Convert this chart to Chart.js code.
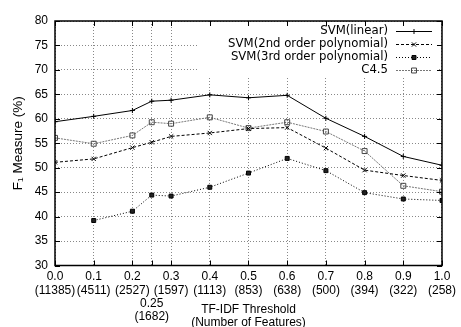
<!DOCTYPE html>
<html><head><meta charset="utf-8">
<script src="https://cdn.jsdelivr.net/npm/chart.js@4/dist/chart.umd.min.js"></script>
<style>html,body{margin:0;padding:0;background:#fff}#wrap{width:461px;height:327px}</style>
</head><body><div id="wrap"><canvas id="c" width="461" height="327"></canvas></div>
<script>
const thresholds = [0.0, 0.1, 0.2, 0.25, 0.3, 0.4, 0.5, 0.6, 0.7, 0.8, 0.9, 1.0];
const thresholdLabels = ['0.0','0.1','0.2','0.25','0.3','0.4','0.5','0.6','0.7','0.8','0.9','1.0'];
const featureCounts = ['(11385)','(4511)','(2527)','(1682)','(1597)','(1113)','(853)','(638)','(500)','(394)','(322)','(258)'];
const svmLinear = [59.4, 60.5, 61.7, 63.6, 63.8, 64.9, 64.3, 64.8, 60.1, 56.4, 52.3, 50.5];
const svmPoly2  = [51.1, 51.8, 54.1, 55.2, 56.4, 57.1, 58.0, 58.2, 54.0, 49.5, 48.4, 47.4];
const svmPoly3  = [null, 39.2, 41.1, 44.4, 44.2, 46.0, 48.9, 51.9, 49.4, 44.9, 43.6, 43.3];
const c45       = [56.1, 54.9, 56.6, 59.3, 59.0, 60.3, 58.1, 59.3, 57.4, 53.4, 46.3, 45.1];
const seriesNames = ['SVM(linear)', 'SVM(2nd order polynomial)', 'SVM(3rd order polynomial)', 'C4.5'];
const yTitle = 'F\u2081 Measure (%)';
const xTitle = ['TF-IDF Threshold', '(Number of Features)'];

const FONT = '"Liberation Sans", Arial, Helvetica, sans-serif';
const NARROW = '"Liberation Sans Narrow", "Arial Narrow", "DejaVu Sans Condensed", "Liberation Sans", sans-serif';
const pts = arr => thresholds.map((x, i) => ({x: x, y: arr[i]}));

const decor = {
  id: 'decor',
  beforeDatasetsDraw(chart) {
    const ctx = chart.ctx;
    ctx.save();
    ctx.fillStyle = '#fff';
    ctx.fillRect(197, 22, 241, 55);
    ctx.font = '13px ' + NARROW;
    ctx.textAlign = 'right';
    ctx.textBaseline = 'middle';
    chart.data.datasets.forEach((ds, i) => {
      const y = 31 + i * 13;
      ctx.fillStyle = '#000';
      ctx.fillText(ds.label, 388, y);
      ctx.beginPath();
      ctx.strokeStyle = ds.borderColor;
      ctx.lineWidth = ds.borderWidth;
      ctx.setLineDash(ds.borderDash || []);
      ctx.moveTo(396, y + 0.5);
      ctx.lineTo(432, y + 0.5);
      ctx.stroke();
      ctx.setLineDash([]);
      ctx.fillStyle = ds.pointBackgroundColor;
      ctx.strokeStyle = ds.pointBorderColor;
      ctx.lineWidth = ds.pointBorderWidth;
      Chart.helpers.drawPoint(ctx, {
        pointStyle: ds.pointStyle, radius: ds.pointRadius, borderWidth: ds.pointBorderWidth, rotation: 0
      }, 414, y + 0.5);
    });
    ctx.restore();
  },
  afterDatasetsDraw(chart) {
    const ctx = chart.ctx;
    const a = chart.chartArea;
    const xs = chart.scales.x, ys = chart.scales.y;
    ctx.save();
    ctx.strokeStyle = '#000';
    ctx.lineWidth = 1;
    ctx.beginPath();
    xs.ticks.forEach(t => {
      const px = Math.round(xs.getPixelForValue(t.value)) + 0.5;
      ctx.moveTo(px, a.bottom); ctx.lineTo(px, a.bottom - 5);
      ctx.moveTo(px, a.top); ctx.lineTo(px, a.top + 5);
    });
    ys.ticks.forEach(t => {
      const py = Math.round(ys.getPixelForValue(t.value)) + 0.5;
      ctx.moveTo(a.left, py); ctx.lineTo(a.left + 5, py);
      ctx.moveTo(a.right, py); ctx.lineTo(a.right - 5, py);
    });
    ctx.stroke();
    ctx.lineWidth = 1.5;
    ctx.strokeRect(a.left, a.top, a.right - a.left, a.bottom - a.top);
    ctx.restore();
  }
};

new Chart(document.getElementById('c'), {
  type: 'line',
  data: {
    datasets: [
      {label: seriesNames[0], data: pts(svmLinear), borderColor: '#000', borderWidth: 1, borderDash: [],
       pointStyle: 'cross', pointRadius: 2.5, pointBorderColor: '#000', pointBackgroundColor: '#000', pointBorderWidth: 1},
      {label: seriesNames[1], data: pts(svmPoly2), borderColor: '#000', borderWidth: 1, borderDash: [3, 2],
       pointStyle: 'crossRot', pointRadius: 3, pointBorderColor: '#000', pointBackgroundColor: '#000', pointBorderWidth: 1},
      {label: seriesNames[2], data: pts(svmPoly3), borderColor: '#000', borderWidth: 1, borderDash: [1, 2],
       pointStyle: 'rect', pointRadius: 2.8, pointBorderColor: '#000', pointBackgroundColor: '#222', pointBorderWidth: 1},
      {label: seriesNames[3], data: pts(c45), borderColor: '#777', borderWidth: 1, borderDash: [2, 1],
       pointStyle: 'rect', pointRadius: 3.5, pointBorderColor: '#444', pointBackgroundColor: 'rgba(0,0,0,0)', pointBorderWidth: 1}
    ]
  },
  options: {
    responsive: false,
    animation: false,
    devicePixelRatio: 1,
    spanGaps: false,
    layout: {padding: {top: 21, right: 14, left: 0, bottom: 0}},
    plugins: {legend: {display: false}, tooltip: {enabled: false}},
    scales: {
      x: {
        type: 'linear', min: 0, max: 1,
        afterBuildTicks: s => { s.ticks = thresholds.map(v => ({value: v})); },
        afterFit: s => { s.height = 61.5; },
        ticks: {
          autoSkip: false, maxRotation: 0, minRotation: 0, padding: 5, color: '#000',
          font: {family: FONT, size: 12, lineHeight: 1.1},
          callback: (v, i) => i === 3 ? ['', '', thresholdLabels[i], featureCounts[i]] : [thresholdLabels[i], featureCounts[i]]
        },
        grid: {color: '#888', lineWidth: 1, drawTicks: false},
        border: {display: false, dash: [1, 2]},
        title: {display: true, text: xTitle, color: '#000', font: {family: FONT, size: 12, lineHeight: 1.1}, padding: {top: 0, bottom: -2}}
      },
      y: {
        min: 30, max: 80,
        afterFit: s => { s.width = 55; },
        ticks: {stepSize: 5, padding: 7, color: '#000', font: {family: FONT, size: 12}},
        grid: {color: '#888', lineWidth: 1, drawTicks: false},
        border: {display: false, dash: [1, 2]},
        title: {display: true, text: yTitle, color: '#000', font: {family: FONT, size: 13.5}, padding: {top: 10, bottom: 0}}
      }
    }
  },
  plugins: [decor]
});
</script></body></html>
